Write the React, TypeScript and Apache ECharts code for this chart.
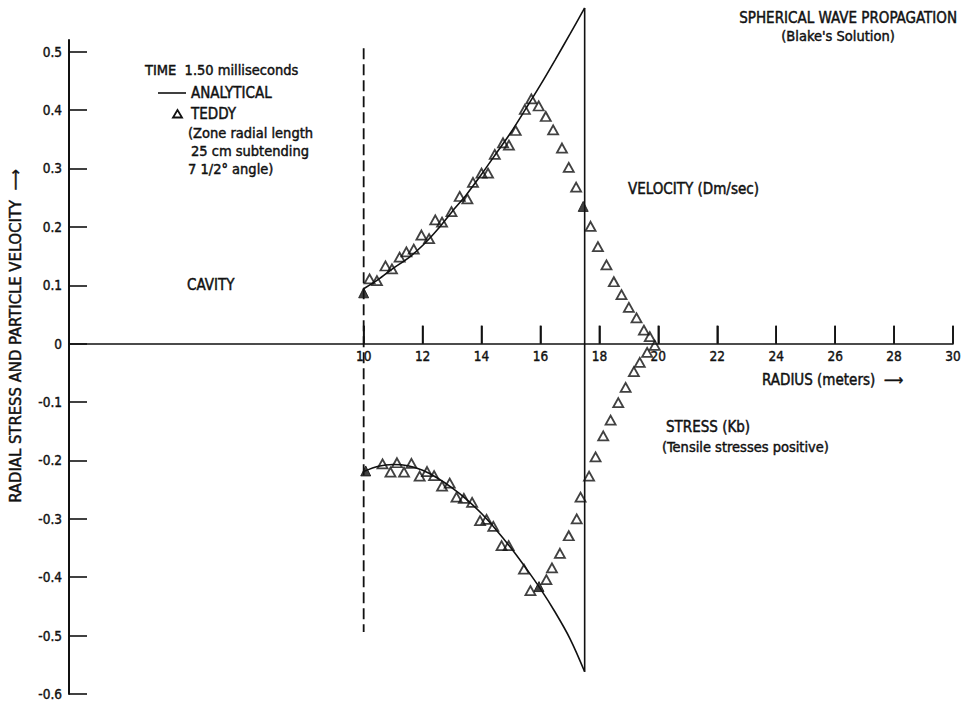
import React, { useEffect, useRef } from "react";
import * as echarts from "echarts";

// ---------- data ----------
const xTickValues = [10, 12, 14, 16, 18, 20, 22, 24, 26, 28, 30];
const yTickValues = [-0.6, -0.5, -0.4, -0.3, -0.2, -0.1, 0, 0.1, 0.2, 0.3, 0.4, 0.5];

const analyticalRadius = [10, 10.5, 11, 11.5, 12, 12.5, 13, 13.5, 14, 14.5, 15, 15.5, 16, 16.5, 17, 17.5];
const analyticalVelocity = [0.094, 0.110, 0.129, 0.146, 0.168, 0.195, 0.226, 0.256, 0.290, 0.326, 0.362, 0.402, 0.443, 0.486, 0.530, 0.575];
const analyticalStress = [-0.219, -0.210, -0.207, -0.209, -0.217, -0.230, -0.247, -0.267, -0.291, -0.319, -0.350, -0.384, -0.420, -0.460, -0.505, -0.562];

const shockFrontRadius = [17.5, 17.5];
const shockFrontValue = [0.575, -0.562];

const cavityRadius = [10, 10];
const cavityValue = [0.506, -0.494];

const teddyVelocityRadius = [10.20, 10.45, 10.74, 10.96, 11.22, 11.45, 11.70, 11.96, 12.22, 12.43, 12.66, 12.98, 13.26, 13.52, 13.71, 14.00, 14.22, 14.45, 14.73, 14.93, 15.16, 15.47, 15.69, 15.94, 16.18, 16.43, 16.73, 16.96, 17.21, 17.70, 17.95, 18.24, 18.49, 18.75, 19.00, 19.26, 19.51, 19.71, 19.88];
const teddyVelocity = [0.111, 0.108, 0.133, 0.128, 0.148, 0.157, 0.162, 0.186, 0.180, 0.212, 0.208, 0.226, 0.252, 0.248, 0.276, 0.292, 0.292, 0.324, 0.344, 0.340, 0.365, 0.401, 0.419, 0.407, 0.389, 0.366, 0.335, 0.302, 0.268, 0.201, 0.166, 0.135, 0.106, 0.084, 0.062, 0.044, 0.023, 0.012, -0.003];

const teddyStressRadius = [10.64, 10.91, 11.13, 11.37, 11.62, 11.90, 12.15, 12.39, 12.66, 12.92, 13.15, 13.40, 13.68, 13.95, 14.17, 14.40, 14.68, 14.92, 15.44, 15.66, 16.20, 16.39, 16.66, 16.96, 17.23, 17.36, 17.65, 17.87, 18.13, 18.38, 18.64, 18.89, 19.17, 19.37, 19.62];
const teddyStress = [-0.206, -0.220, -0.204, -0.220, -0.205, -0.227, -0.219, -0.226, -0.244, -0.239, -0.263, -0.265, -0.272, -0.303, -0.301, -0.313, -0.346, -0.346, -0.386, -0.423, -0.404, -0.384, -0.359, -0.329, -0.300, -0.263, -0.227, -0.194, -0.158, -0.131, -0.101, -0.075, -0.048, -0.032, -0.015];

const filledRadius = [10.0, 17.45, 10.07, 15.95];
const filledValue = [0.087, 0.235, -0.218, -0.416];

// ---------- helpers ----------
const zip = (xs: number[], ys: number[]) => xs.map((x, i) => [x, ys[i]]);
const FONT = "'DejaVu Sans Condensed', 'Liberation Sans Narrow', 'DejaVu Sans', sans-serif";
const INK = "#111";

const txt = (x: number, y: number, text: string, extra: any = {}) => ({
  type: "text",
  x,
  y,
  silent: true,
  style: {
    text,
    fill: INK,
    font: `${extra.fontSize || 14.5}px ${FONT}`,
    align: extra.align || "left",
    verticalAlign: "middle",
    stroke: INK,
    lineWidth: 0.45,
  },
  ...(extra.rotation ? { rotation: extra.rotation } : {}),
});

export default function App() {
  const ref = useRef<HTMLDivElement>(null);

  useEffect(() => {
    document.body.style.margin = "0";
    if (!ref.current) return;
    const chart = echarts.init(ref.current, undefined, { renderer: "svg" });

    const lineBase = {
      type: "line",
      showSymbol: false,
      symbol: "none",
      clip: false,
      silent: true,
      z: 2,
    };
    const triStyle = {
      color: "rgba(0,0,0,0)",
      borderColor: INK,
      borderWidth: 1.8,
    };
    const tickLabelStyle = {
      color: INK,
      fontSize: 13.5,
      fontFamily: FONT,
      textBorderColor: INK,
      textBorderWidth: 0.4,
    };

    chart.setOption({
      animation: false,
      backgroundColor: "#fff",
      grid: { left: 69, right: 12, top: 40, bottom: 11, outerBoundsMode: "none", containLabel: false },
      xAxis: {
        type: "value",
        min: 0,
        max: 30,
        interval: 2,
        axisLine: { show: true, onZero: true, lineStyle: { color: INK, width: 1.6 } },
        axisTick: { show: true, inside: true, length: 18, customValues: xTickValues, lineStyle: { color: INK, width: 1.6 } },
        axisLabel: { show: false },
        splitLine: { show: false },
      },
      yAxis: {
        type: "value",
        min: -0.6,
        max: 0.52,
        axisLine: { show: true, lineStyle: { color: INK, width: 2 } },
        axisTick: { show: true, inside: true, length: 18, customValues: yTickValues, lineStyle: { color: INK, width: 1.6 } },
        axisLabel: { show: true, customValues: yTickValues, margin: 7, ...tickLabelStyle },
        splitLine: { show: false },
      },
      series: [
        {
          ...lineBase,
          name: "Analytical velocity",
          smooth: 0.3,
          data: zip(analyticalRadius, analyticalVelocity),
          lineStyle: { color: INK, width: 1.6 },
        },
        {
          ...lineBase,
          name: "Analytical stress",
          smooth: 0.3,
          data: zip(analyticalRadius, analyticalStress),
          lineStyle: { color: INK, width: 1.6 },
        },
        {
          ...lineBase,
          name: "Shock front",
          data: zip(shockFrontRadius, shockFrontValue),
          lineStyle: { color: INK, width: 1.6 },
        },
        {
          ...lineBase,
          name: "Cavity",
          data: zip(cavityRadius, cavityValue),
          lineStyle: { color: INK, width: 1.8, type: [11, 5] },
        },
        {
          type: "scatter",
          name: "TEDDY velocity",
          symbol: "triangle",
          symbolSize: [10, 9],
          data: zip(teddyVelocityRadius, teddyVelocity),
          itemStyle: triStyle,
          silent: true,
          z: 3,
        },
        {
          type: "scatter",
          name: "TEDDY stress",
          symbol: "triangle",
          symbolSize: [10, 9],
          data: zip(teddyStressRadius, teddyStress),
          itemStyle: triStyle,
          silent: true,
          z: 3,
        },
        {
          type: "scatter",
          name: "TEDDY on line",
          symbol: "triangle",
          symbolSize: [10, 10],
          data: zip(filledRadius, filledValue),
          itemStyle: { color: INK, borderColor: INK, borderWidth: 1 },
          silent: true,
          z: 3,
        },
        {
          type: "custom",
          name: "x axis ticks",
          silent: true,
          clip: false,
          z: 4,
          data: xTickValues.map((v) => [v, 0]),
          renderItem: (params: any, api: any) => {
            const p = api.coord([api.value(0), api.value(1)]);
            return {
              type: "group",
              children: [
                {
                  type: "rect",
                  shape: { x: p[0] - 0.8, y: p[1] - 18, width: 1.6, height: 18 },
                  style: { fill: INK },
                },
                {
                  type: "text",
                  x: p[0],
                  y: p[1] + 5,
                  style: {
                    text: String(api.value(0)),
                    fill: INK,
                    stroke: INK,
                    lineWidth: 0.4,
                    font: `13.5px ${FONT}`,
                    align: "center",
                    verticalAlign: "top",
                  },
                },
              ],
            };
          },
        },
      ],
      graphic: [
        txt(957, 18, "SPHERICAL WAVE PROPAGATION", { align: "right", fontSize: 15 }),
        txt(838, 36, "(Blake's Solution)", { align: "center" }),
        txt(145, 70, "TIME  1.50 milliseconds"),
        {
          type: "line",
          silent: true,
          shape: { x1: 158, y1: 93, x2: 186, y2: 93 },
          style: { stroke: INK, lineWidth: 1.6 },
        },
        txt(191, 93, "ANALYTICAL", { fontSize: 15 }),
        {
          type: "polygon",
          silent: true,
          shape: { points: [[177.5, 110], [173, 117.5], [182, 117.5]] },
          style: { fill: "none", stroke: INK, lineWidth: 1.8 },
        },
        txt(191, 114, "TEDDY", { fontSize: 15 }),
        txt(188, 133, "(Zone radial length"),
        txt(191, 151, "25 cm subtending"),
        txt(188, 169, "7 1/2° angle)"),
        txt(187, 285, "CAVITY", { fontSize: 15 }),
        txt(628, 189, "VELOCITY (Dm/sec)", { fontSize: 15 }),
        txt(762, 380, "RADIUS (meters)  ⟶", { fontSize: 15 }),
        txt(666, 427, "STRESS (Kb)", { fontSize: 15 }),
        txt(662, 447, "(Tensile stresses positive)"),
        txt(15, 336, "RADIAL STRESS AND PARTICLE VELOCITY  ⟶", { align: "center", rotation: Math.PI / 2, fontSize: 16.5 }),
      ],
    });

    return () => chart.dispose();
  }, []);

  return <div ref={ref} style={{ width: 965, height: 705 }} />;
}
